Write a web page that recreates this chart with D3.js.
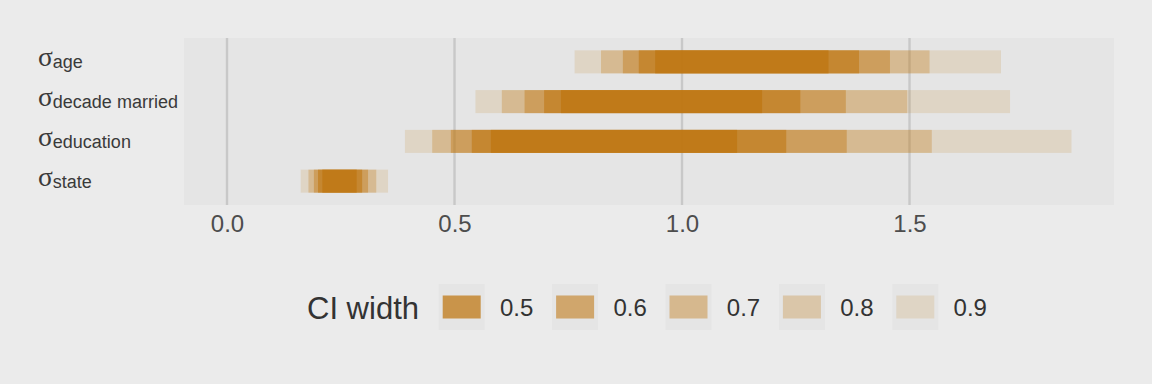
<!DOCTYPE html>
<html>
<head>
<meta charset="utf-8">
<script src="https://cdn.jsdelivr.net/npm/d3@7"></script>
<style>
  html, body { margin: 0; padding: 0; background: #ebebeb; }
  svg { display: block; }
</style>
</head>
<body>
<svg id="chart" width="1152" height="384"></svg>
<script>
// ---- data ----
const rows = ["age", "decade married", "education", "state"];
const widths = [0.5, 0.6, 0.7, 0.8, 0.9];
const widthLabels = ["0.5", "0.6", "0.7", "0.8", "0.9"];
const xTicks = [0.0, 0.5, 1.0, 1.5];
const xTickLabels = ["0.0", "0.5", "1.0", "1.5"];
// lower / upper bounds per row, ordered like widths
const lowerAge = [0.941, 0.905, 0.870, 0.822, 0.764];
const upperAge = [1.322, 1.389, 1.457, 1.544, 1.701];
const lowerDecade = [0.734, 0.697, 0.654, 0.604, 0.546];
const upperDecade = [1.176, 1.260, 1.360, 1.495, 1.721];
const lowerEducation = [0.580, 0.538, 0.492, 0.451, 0.391];
const upperEducation = [1.121, 1.229, 1.362, 1.549, 1.856];
const lowerState = [0.2095, 0.200, 0.191, 0.179, 0.162];
const upperState = [0.285, 0.297, 0.310, 0.328, 0.354];

const lowers = [lowerAge, lowerDecade, lowerEducation, lowerState];
const uppers = [upperAge, upperDecade, upperEducation, upperState];

// ---- style ----
const baseColor = "#bf7610";
const alphas = [0.73, 0.57, 0.41, 0.28, 0.15];
const panel = { left: 184, right: 1114, top: 38, bottom: 205 };

const svg = d3.select("#chart");

const x = d3.scaleLinear()
  .domain([-0.0945, 1.9494])
  .range([panel.left, panel.right]);

const y = d3.scalePoint()
  .domain(rows)
  .range([panel.top, panel.bottom])
  .padding(0.6);

const barH = 23;

// panel background
svg.append("rect")
  .attr("x", panel.left).attr("y", panel.top)
  .attr("width", panel.right - panel.left)
  .attr("height", panel.bottom - panel.top)
  .attr("fill", "#e5e5e5");

// vertical grid lines
svg.append("g").selectAll("line")
  .data(xTicks)
  .join("line")
  .attr("x1", d => x(d)).attr("x2", d => x(d))
  .attr("y1", panel.top).attr("y2", panel.bottom)
  .attr("stroke", "#c8c8c8")
  .attr("stroke-width", 2.4);

// intervals: widest first
const intervals = [];
rows.forEach((r, i) => {
  for (let k = widths.length - 1; k >= 0; k--) {
    intervals.push({ row: r, k: k, lo: lowers[i][k], hi: uppers[i][k] });
  }
});

svg.append("g").selectAll("rect")
  .data(intervals)
  .join("rect")
  .attr("x", d => x(d.lo))
  .attr("width", d => x(d.hi) - x(d.lo))
  .attr("y", d => y(d.row) - barH / 2)
  .attr("height", barH)
  .attr("fill", baseColor)
  .attr("fill-opacity", d => alphas[d.k]);

// x axis
const xAxis = d3.axisBottom(x)
  .tickValues(xTicks)
  .tickFormat((d, i) => xTickLabels[i])
  .tickSize(0)
  .tickPadding(10);

const gx = svg.append("g")
  .attr("transform", `translate(0,${panel.bottom})`)
  .call(xAxis);
gx.select(".domain").remove();
gx.selectAll("text")
  .attr("font-family", "'Liberation Sans', Arial, sans-serif")
  .attr("font-size", 24)
  .attr("fill", "#4d4d4d");

// y labels: sigma with subscript
const yl = svg.append("g").selectAll("text")
  .data(rows)
  .join("text")
  .attr("x", 38)
  .attr("y", d => y(d) + 4.5)
  .attr("fill", "#3a3a3a");
yl.append("tspan")
  .attr("font-family", "'Liberation Serif', 'Times New Roman', serif")
  .attr("font-size", 27.5)
  .text("σ");
yl.append("tspan")
  .attr("font-family", "'Liberation Sans', Arial, sans-serif")
  .attr("font-size", 18)
  .attr("dy", 2)
  .text(d => d);

// legend
const legend = svg.append("g");
legend.append("text")
  .attr("x", 307)
  .attr("y", 319)
  .attr("font-family", "'Liberation Sans', Arial, sans-serif")
  .attr("font-size", 31)
  .attr("fill", "#333333")
  .text("CI width");

const keyX0 = 438.7, keyStep = 113.4;
const keys = legend.selectAll("g.key")
  .data(widths)
  .join("g")
  .attr("class", "key")
  .attr("transform", (d, i) => `translate(${keyX0 + i * keyStep},284)`);
keys.append("rect")
  .attr("width", 46).attr("height", 46)
  .attr("fill", "#e5e5e5");
keys.append("rect")
  .attr("x", 4).attr("y", 11.5)
  .attr("width", 38).attr("height", barH)
  .attr("fill", baseColor)
  .attr("fill-opacity", (d, i) => alphas[i]);
keys.append("text")
  .attr("x", 61.3)
  .attr("y", 32)
  .attr("font-family", "'Liberation Sans', Arial, sans-serif")
  .attr("font-size", 24)
  .attr("fill", "#333333")
  .text((d, i) => widthLabels[i]);
</script>
</body>
</html>
